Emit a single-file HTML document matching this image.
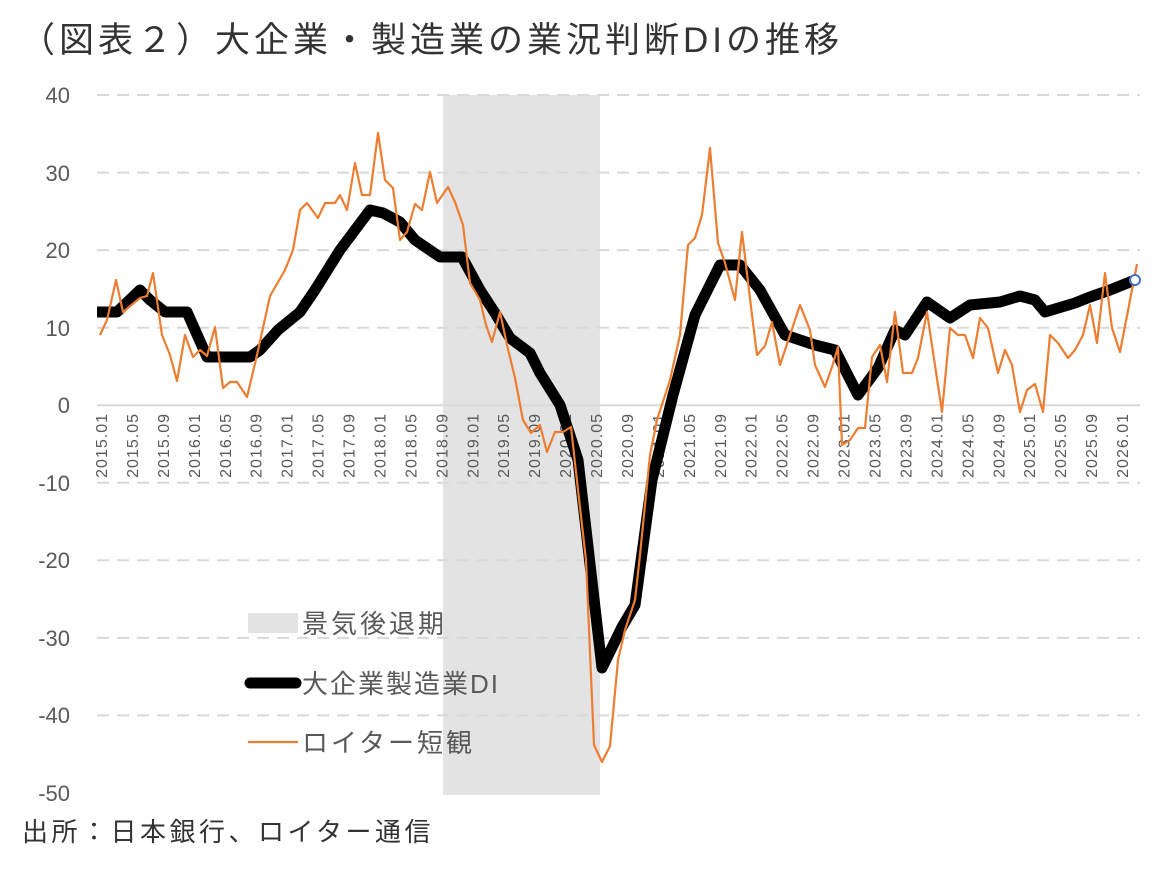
<!DOCTYPE html>
<html><head><meta charset="utf-8"><style>
body{margin:0;background:#fff;width:1162px;height:871px;overflow:hidden;font-family:"Liberation Sans","Noto Sans CJK JP",sans-serif}
</style></head><body>
<svg width="1162" height="871" xmlns="http://www.w3.org/2000/svg" style="font-family:'Liberation Sans','Noto Sans CJK JP',sans-serif">
<text x="20" y="52" font-size="35" letter-spacing="4" fill="#333">（図表２）大企業・製造業の業況判断DIの推移</text>
<rect x="443" y="95" width="157" height="700" fill="#e3e3e3"/>
<g stroke="#d9d9d9" stroke-width="2" stroke-dasharray="12,8">
<line x1="97" y1="95" x2="1140" y2="95"/><line x1="97" y1="172.6" x2="1140" y2="172.6"/>
<line x1="97" y1="250.1" x2="1140" y2="250.1"/><line x1="97" y1="327.7" x2="1140" y2="327.7"/>
<line x1="97" y1="482.8" x2="1140" y2="482.8"/><line x1="97" y1="560.3" x2="1140" y2="560.3"/>
<line x1="97" y1="637.9" x2="1140" y2="637.9"/><line x1="97" y1="715.4" x2="1140" y2="715.4"/>
</g>
<line x1="97" y1="405.2" x2="1140" y2="405.2" stroke="#d9d9d9" stroke-width="2"/>
<g font-size="22" fill="#595959" text-anchor="end">
<text x="70" y="103">40</text><text x="70" y="181">30</text><text x="70" y="258">20</text><text x="70" y="336">10</text><text x="70" y="413">0</text><text x="70" y="491">-10</text><text x="70" y="568">-20</text><text x="70" y="646">-30</text><text x="70" y="723">-40</text><text x="70" y="801">-50</text>
</g>
<g id="xl" font-size="16" letter-spacing="1" fill="#595959" text-anchor="end"></g>
<polyline fill="none" stroke="#000" stroke-width="11" stroke-linejoin="round" points="97,312 117,312 140,290 150,300 165,312 187,312 207,357 250,357 260,350 278,330 300,312 315,290 340,250 370,210 383,213 400,222 415,240 440,257 462,257 480,290 495,313 510,338 530,353 540,373 560,405 578,460 602,668 622,627 635,605 652,480 673,395 695,315 720,265 740,265 760,290 785,335 800,340 815,345 835,350 858,395 878,368 895,330 905,335 927,302 950,318 970,305 1000,302 1020,296 1035,300 1045,312 1075,303 1090,297 1110,290 1135,280"/>
<polyline fill="none" stroke="#ed7d31" stroke-width="2.2" stroke-linejoin="round" points="100,335 107,320 116,280 123,312 140,298 147,296 153,273 162,335 170,355 177,381 185,335 193,357 200,350 207,356 215,327 223,388 230,382 237,382 247,397 257,355 270,296 285,270 293,250 300,210 307,203 318,218 325,203 335,203 340,195 347,210 355,163 362,195 370,195 378,133 385,180 393,188 400,240 407,232 415,204 422,210 430,172 437,203 448,187 455,202 463,225 470,283 480,300 486,325 492,342 500,312 507,345 515,378 523,420 531,433 540,425 547,452 555,432 563,432 571,427 578,490 586,560 594,745 602,762 610,746 618,660 625,630 635,600 640,555 650,455 657,420 670,380 680,335 688,245 695,238 702,215 710,148 718,243 725,263 735,300 742,232 752,315 757,355 765,346 772,322 780,365 790,335 800,305 810,330 815,365 825,387 832,367 838,347 842,445 850,440 858,428 865,428 872,357 880,345 887,382 895,312 903,373 912,373 918,358 927,312 942,412 950,328 958,335 965,335 973,358 980,318 988,328 998,373 1005,350 1012,365 1020,412 1027,390 1035,384 1043,412 1050,335 1058,343 1068,358 1075,350 1083,335 1090,305 1097,343 1105,273 1112,328 1120,352 1137,264"/>
<circle cx="1135" cy="280" r="5" fill="#fff" stroke="#4472c4" stroke-width="2"/>
<rect x="248" y="613" width="50" height="20" fill="#e3e3e3"/>
<text x="302" y="633" font-size="26" letter-spacing="3" fill="#595959">景気後退期</text>
<line x1="250" y1="683" x2="296" y2="683" stroke="#000" stroke-width="11" stroke-linecap="round"/>
<text x="302" y="693" font-size="26" letter-spacing="2" fill="#595959">大企業製造業DI</text>
<line x1="248" y1="742" x2="298" y2="742" stroke="#ed7d31" stroke-width="2.2"/>
<text x="302" y="752" font-size="26" letter-spacing="3" fill="#595959">ロイター短観</text>
<text x="22" y="841" font-size="26" letter-spacing="3.5" fill="#333">出所：日本銀行、ロイター通信</text>
</svg>
<script>
var g=document.getElementById('xl'),s='';
for(var i=0;i<34;i++){var m=i*4,y=2015+Math.floor(m/12),mo=m%12+1;var x=(101+30.94*i+6).toFixed(1);
s+='<text transform="translate('+x+',413) rotate(-90)">'+y+'.'+(mo<10?'0':'')+mo+'</text>';}
g.innerHTML=s;
</script>
</body></html>
